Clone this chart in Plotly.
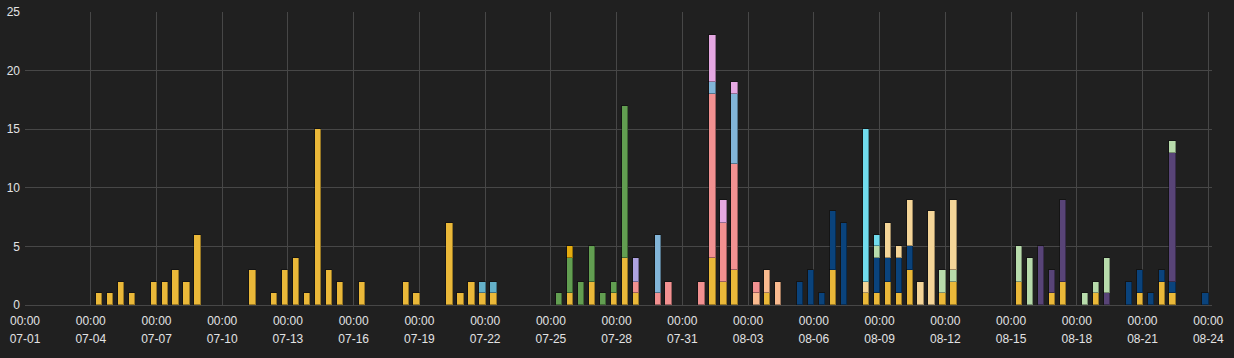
import plotly.graph_objects as go

# ---- data (12-hour bins, bar centre times) ----
yellow_t = ["07-04 09", "07-04 21", "07-05 09", "07-05 21", "07-06 21", "07-07 09", "07-07 21", "07-08 09", "07-08 21",
            "07-11 09", "07-12 09", "07-12 21", "07-13 09", "07-13 21", "07-14 09", "07-14 21", "07-15 09", "07-16 09",
            "07-18 09", "07-18 21", "07-20 09", "07-20 21", "07-21 09", "07-21 21", "07-22 09", "07-25 21", "07-26 21",
            "07-27 21", "07-28 09", "07-28 21", "08-01 09", "08-01 21", "08-02 09", "08-03 21", "08-06 21", "08-08 09",
            "08-08 21", "08-09 09", "08-09 21", "08-10 09", "08-11 21", "08-12 09", "08-15 09", "08-16 21", "08-17 09",
            "08-18 21", "08-20 21", "08-21 21", "08-22 09"]
yellow_v = [1, 1, 2, 1, 2, 2, 3, 2, 6,
            3, 1, 3, 4, 1, 15, 3, 2, 2,
            2, 1, 7, 1, 2, 1, 1, 1, 2,
            1, 4, 1, 4, 2, 3, 1, 3, 1,
            1, 2, 1, 3, 1, 2, 2, 1, 2,
            1, 1, 2, 1]

teal_t = ["07-21 21", "07-22 09"]
teal_v = [1, 1]

green_t = ["07-25 09", "07-25 21", "07-26 09", "07-26 21", "07-27 09", "07-27 21", "07-28 09"]
green_v = [1, 3, 2, 3, 1, 1, 13]

gold_t = ["07-25 21"]
gold_v = [1]

peach_t = ["08-03 09", "08-03 21", "08-04 09"]
peach_v = [1, 2, 2]

salmon_t = ["07-28 21", "07-29 21", "07-30 09", "07-31 21", "08-01 09", "08-01 21", "08-02 09", "08-03 09"]
salmon_v = [1, 1, 2, 2, 14, 5, 9, 1]

lavender_t = ["07-28 21"]
lavender_v = [2]

lightblue_t = ["07-29 21", "08-01 09", "08-02 09"]
lightblue_v = [5, 1, 6]

orchid_t = ["08-01 09", "08-01 21", "08-02 09"]
orchid_v = [4, 2, 1]

darkblue_t = ["08-05 09", "08-05 21", "08-06 09", "08-06 21", "08-07 09", "08-08 21", "08-09 09", "08-09 21",
              "08-10 09", "08-20 09", "08-20 21", "08-21 09", "08-21 21", "08-22 09", "08-23 21"]
darkblue_v = [2, 3, 1, 5, 7, 3, 2, 3, 2, 2, 2, 1, 1, 1, 1]

purple_t = ["08-16 09", "08-16 21", "08-17 09", "08-19 09", "08-22 09"]
purple_v = [5, 2, 7, 1, 11]

lightgreen_t = ["08-08 21", "08-11 21", "08-12 09", "08-15 09", "08-15 21", "08-18 09", "08-18 21", "08-19 09", "08-22 09"]
lightgreen_v = [1, 2, 1, 3, 4, 1, 1, 3, 1]

tan_t = ["08-08 09", "08-09 09", "08-09 21", "08-10 09", "08-10 21", "08-11 09", "08-12 09"]
tan_v = [1, 3, 1, 4, 2, 8, 6]

cyan_t = ["08-08 09", "08-08 21"]
cyan_v = [13, 1]

tick_days = ["07-01", "07-04", "07-07", "07-10", "07-13", "07-16", "07-19", "07-22", "07-25",
             "07-28", "07-31", "08-03", "08-06", "08-09", "08-12", "08-15", "08-18", "08-21", "08-24"]

YEAR = "2024"


def ts(s):
    md, hh = s.split(" ")
    return f"{YEAR}-{md} {hh}:00"


series = [
    (yellow_t, yellow_v, "#EAB839"),
    (teal_t, teal_v, "#64B0C8"),
    (green_t, green_v, "#629E51"),
    (gold_t, gold_v, "#E5AC0E"),
    (peach_t, peach_v, "#F9BA8F"),
    (salmon_t, salmon_v, "#F29191"),
    (lavender_t, lavender_v, "#AEA2E0"),
    (lightblue_t, lightblue_v, "#82B5D8"),
    (orchid_t, orchid_v, "#E5A8E2"),
    (darkblue_t, darkblue_v, "#0A437C"),
    (purple_t, purple_v, "#584477"),
    (lightgreen_t, lightgreen_v, "#B7DBAB"),
    (tan_t, tan_v, "#F4D598"),
    (cyan_t, cyan_v, "#70DBED"),
]

BAR_W = 7 * 3600 * 1000  # ms

fig = go.Figure()
for t, v, c in series:
    fig.add_trace(go.Bar(
        x=[ts(s) for s in t], y=v, width=BAR_W,
        marker=dict(color=c, line=dict(color="rgba(0,0,0,0.35)", width=1)),
        showlegend=False,
    ))
# empty trace so the second (date-label) x axis is drawn
fig.add_trace(go.Scatter(x=[], y=[], xaxis="x2", yaxis="y", showlegend=False, hoverinfo="skip"))

BG = "#202020"
GRID = "#474747"
TXT = "#e2e3e4"
FONT = "Liberation Sans, Arial, sans-serif"
x_range = [f"{YEAR}-07-01 00:00", f"{YEAR}-08-24 04:05"]
tickvals = [f"{YEAR}-{d} 00:00" for d in tick_days]

fig.update_layout(
    width=1234, height=358,
    margin=dict(l=25, r=22, t=12, b=53, autoexpand=False),
    paper_bgcolor=BG, plot_bgcolor=BG,
    barmode="stack", bargap=0,
    font=dict(family=FONT, size=12, color=TXT),
    xaxis=dict(
        type="date", range=x_range, automargin=False,
        tickmode="array", tickvals=tickvals, ticktext=["00:00"] * len(tickvals),
        showgrid=True, gridcolor=GRID, gridwidth=1,
        showline=True, linecolor=GRID, linewidth=1,
        ticks="", zeroline=False,
        ticklabelstandoff=5,
        tickfont=dict(family=FONT, size=12, color=TXT),
    ),
    xaxis2=dict(
        type="date", range=x_range, overlaying="x", side="bottom", anchor="y", automargin=False,
        tickmode="array", tickvals=tickvals, ticktext=tick_days,
        showgrid=False, showline=False, ticks="", zeroline=False,
        ticklabelstandoff=25,
        tickfont=dict(family=FONT, size=12, color=TXT),
    ),
    yaxis=dict(
        range=[0, 25], tickmode="linear", tick0=0, dtick=5, automargin=False,
        showgrid=True, gridcolor=GRID, gridwidth=1,
        zeroline=False, showline=False, ticks="",
        tickfont=dict(family=FONT, size=12, color=TXT),
        ticklabelstandoff=4,
    ),
)

fig.write_html(
    "out.html",
    config={"displayModeBar": False},
    post_script="document.body.style.margin='0';document.body.style.background='#202020';",
)
